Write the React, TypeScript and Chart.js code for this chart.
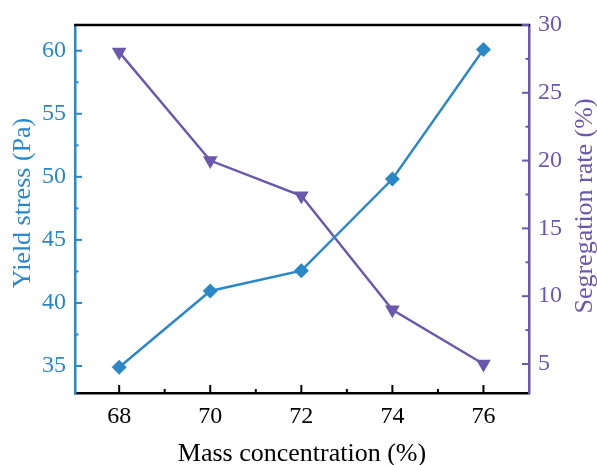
import React, { useEffect, useRef } from "react";
import { Chart, registerables } from "chart.js";

Chart.register(...registerables);

// ---- data ----
const massConcentration = [68, 70, 72, 74, 76];
const yieldStress = [34.9, 40.95, 42.56, 49.83, 60.1];
const segregationRate = [28.0, 20.0, 17.4, 9.0, 5.0];

const xTicks = [68, 70, 72, 74, 76];
const yieldTicks = [35, 40, 45, 50, 55, 60];
const segTicks = [5, 10, 15, 20, 25, 30];

const xTitle = "Mass concentration (%)";
const yTitle = "Yield stress (Pa)";
const y1Title = "Segregation rate (%)";

const BLUE = "#2a87c8";
const PURPLE = "#6a58ad";
const FONT = "'Liberation Serif', 'Times New Roman', serif";

function midpoints(vals: number[]) {
  const out: number[] = [];
  for (let i = 0; i < vals.length - 1; i++) out.push((vals[i] + vals[i + 1]) / 2);
  return out;
}

const framePlugin = {
  id: "frame",
  afterDraw(chart: any) {
    const { ctx, chartArea: a, scales } = chart;
    ctx.save();
    // top border
    ctx.strokeStyle = "#000";
    ctx.lineWidth = 2.5;
    ctx.beginPath();
    ctx.moveTo(a.left - 1, a.top);
    ctx.lineTo(a.right + 1, a.top);
    ctx.stroke();

    ctx.lineWidth = 2;
    // bottom ticks (inward)
    ctx.strokeStyle = "#000";
    const xs = scales.x;
    xTicks.forEach((v) => {
      const p = xs.getPixelForValue(v);
      ctx.beginPath();
      ctx.moveTo(p, a.bottom);
      ctx.lineTo(p, a.bottom - 8);
      ctx.stroke();
    });
    midpoints(xTicks).forEach((v) => {
      const p = xs.getPixelForValue(v);
      ctx.beginPath();
      ctx.moveTo(p, a.bottom);
      ctx.lineTo(p, a.bottom - 4);
      ctx.stroke();
    });
    // left ticks
    ctx.strokeStyle = BLUE;
    const ys = scales.y;
    yieldTicks.forEach((v) => {
      const p = ys.getPixelForValue(v);
      ctx.beginPath();
      ctx.moveTo(a.left, p);
      ctx.lineTo(a.left + 7, p);
      ctx.stroke();
    });
    midpoints(yieldTicks).forEach((v) => {
      const p = ys.getPixelForValue(v);
      ctx.beginPath();
      ctx.moveTo(a.left, p);
      ctx.lineTo(a.left + 3.5, p);
      ctx.stroke();
    });
    // right ticks
    ctx.strokeStyle = PURPLE;
    const y1 = scales.y1;
    segTicks.forEach((v) => {
      const p = y1.getPixelForValue(v);
      ctx.beginPath();
      ctx.moveTo(a.right, p);
      ctx.lineTo(a.right - 7, p);
      ctx.stroke();
    });
    midpoints(segTicks).forEach((v) => {
      const p = y1.getPixelForValue(v);
      ctx.beginPath();
      ctx.moveTo(a.right, p);
      ctx.lineTo(a.right - 3.5, p);
      ctx.stroke();
    });

    // titles
    ctx.font = `26px ${FONT}`;
    ctx.textAlign = "center";
    ctx.textBaseline = "alphabetic";
    ctx.fillStyle = "#000";
    ctx.fillText(xTitle, (a.left + a.right) / 2, 461);

    ctx.save();
    ctx.translate(23, (a.top + a.bottom) / 2 - 6);
    ctx.rotate(-Math.PI / 2);
    ctx.textBaseline = "middle";
    ctx.fillStyle = BLUE;
    ctx.fillText(yTitle, 0, 0);
    ctx.restore();

    ctx.save();
    ctx.translate(585, (a.top + a.bottom) / 2 - 3);
    ctx.rotate(-Math.PI / 2);
    ctx.textBaseline = "middle";
    ctx.fillStyle = PURPLE;
    ctx.fillText(y1Title, 0, 0);
    ctx.restore();

    ctx.restore();
  },
};

export default function App() {
  const ref = useRef<HTMLCanvasElement | null>(null);

  useEffect(() => {
    if (!ref.current) return;
    const chart = new Chart(ref.current, {
      type: "line",
      data: {
        datasets: [
          {
            label: yTitle,
            data: massConcentration.map((x, i) => ({ x, y: yieldStress[i] })),
            yAxisID: "y",
            borderColor: BLUE,
            backgroundColor: BLUE,
            borderWidth: 2.4,
            pointStyle: "rectRot",
            pointRadius: 7.5,
            pointBorderWidth: 0,
            pointBackgroundColor: BLUE,
            tension: 0,
          },
          {
            label: y1Title,
            data: massConcentration.map((x, i) => ({ x, y: segregationRate[i] })),
            yAxisID: "y1",
            borderColor: PURPLE,
            backgroundColor: PURPLE,
            borderWidth: 2.4,
            pointStyle: "triangle",
            pointRotation: 180,
            pointRadius: 8.5,
            pointBorderWidth: 0,
            pointBackgroundColor: PURPLE,
            tension: 0,
          },
        ],
      },
      options: {
        animation: false,
        responsive: false,
        devicePixelRatio: 1,
        layout: { padding: { top: 25, left: 0, right: 0, bottom: 0 } },
        plugins: { legend: { display: false }, tooltip: { enabled: false } },
        scales: {
          x: {
            type: "linear",
            min: 67.03,
            max: 77,
            afterBuildTicks: (s: any) => {
              s.ticks = xTicks.map((v) => ({ value: v }));
            },
            afterFit: (s: any) => {
              s.height = 72;
            },
            grid: { display: false, drawTicks: false },
            border: { display: true, color: "#000", width: 2.5 },
            ticks: {
              color: "#000",
              padding: 9,
              maxRotation: 0,
              font: { family: FONT, size: 24 },
            },
          },
          y: {
            type: "linear",
            position: "left",
            min: 32.86,
            max: 62.04,
            afterBuildTicks: (s: any) => {
              s.ticks = yieldTicks.map((v) => ({ value: v }));
            },
            afterFit: (s: any) => {
              s.width = 75;
            },
            grid: { display: false, drawTicks: false },
            border: { display: true, color: BLUE, width: 2.5 },
            ticks: {
              color: BLUE,
              padding: 9,
              font: { family: FONT, size: 24 },
            },
          },
          y1: {
            type: "linear",
            position: "right",
            min: 2.86,
            max: 30,
            afterBuildTicks: (s: any) => {
              s.ticks = segTicks.map((v) => ({ value: v }));
            },
            afterFit: (s: any) => {
              s.width = 68;
            },
            grid: { display: false, drawTicks: false },
            border: { display: true, color: PURPLE, width: 2.5 },
            ticks: {
              color: PURPLE,
              padding: 9,
              font: { family: FONT, size: 24 },
            },
          },
        },
      },
      plugins: [framePlugin],
    });
    return () => chart.destroy();
  }, []);

  return (
    <div style={{ position: "fixed", left: 0, top: 0, width: 597, height: 465, background: "#fff" }}>
      <canvas ref={ref} width={597} height={465} style={{ width: 597, height: 465 }} />
    </div>
  );
}
